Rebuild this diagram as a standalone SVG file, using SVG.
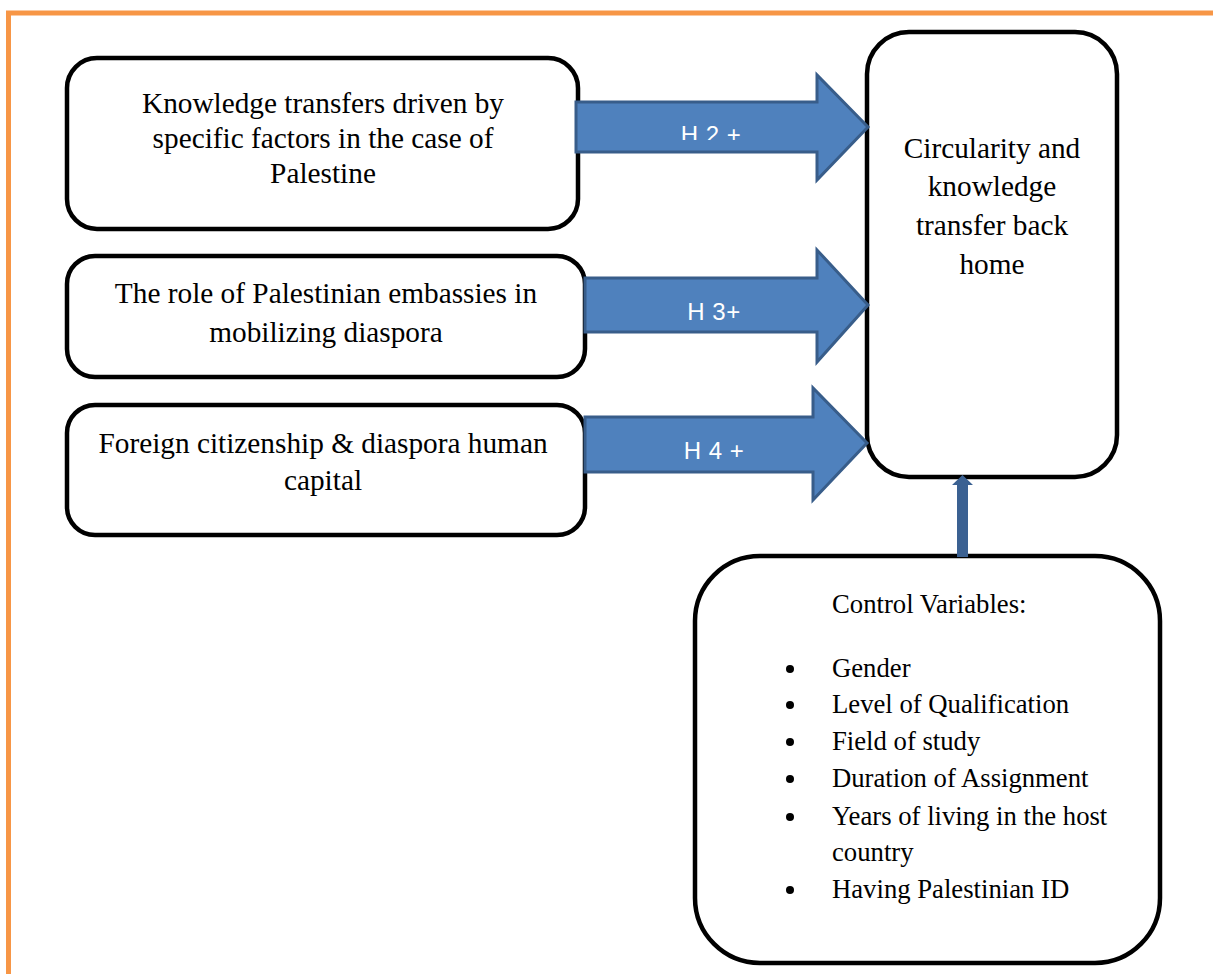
<svg xmlns="http://www.w3.org/2000/svg" width="1213" height="974" viewBox="0 0 1213 974">
  <style>
    .box { fill: #ffffff; stroke: #000000; stroke-width: 4.5; }
    .label { font-family: "Liberation Serif", "Times New Roman", serif; font-size: 29.3px; fill: #000000; text-anchor: middle; }
    .small { font-family: "Liberation Serif", "Times New Roman", serif; font-size: 26.7px; fill: #000000; }
    .fat { fill: #4f81bd; stroke: #385d8a; stroke-width: 3; stroke-linejoin: miter; }
    .hyp { font-family: "Liberation Sans", Arial, sans-serif; font-size: 24px; fill: #ffffff; text-anchor: middle; letter-spacing: 0.5px; }
    .frame { stroke: #f79646; stroke-width: 5; fill: none; }
  </style>
  <defs>
    <clipPath id="clipH2">
      <rect x="600" y="100" width="220" height="40"/>
    </clipPath>
  </defs>

  <rect width="1213" height="974" fill="#ffffff"/>

  <!-- page frame -->
  <g id="frame">
    <line class="frame" x1="8.5" y1="11" x2="8.5" y2="974"/>
    <line class="frame" x1="6" y1="13" x2="1213" y2="13"/>
  </g>

  <g id="node-knowledge-factors">
    <rect class="box" x="67" y="58" width="511" height="171" rx="30" ry="30"/>
    <text class="label" x="323" y="113">Knowledge transfers driven by</text>
    <text class="label" x="323" y="148">specific factors in the case of</text>
    <text class="label" x="323" y="183">Palestine</text>
  </g>

  <g id="node-embassies">
    <rect class="box" x="67" y="256" width="518" height="121" rx="28" ry="28"/>
    <text class="label" x="326" y="303">The role of Palestinian embassies in</text>
    <text class="label" x="326" y="342">mobilizing diaspora</text>
  </g>

  <g id="node-citizenship">
    <rect class="box" x="67" y="405" width="518" height="130" rx="28" ry="28"/>
    <text class="label" x="323" y="453">Foreign citizenship &amp; diaspora human</text>
    <text class="label" x="323" y="490">capital</text>
  </g>

  <g id="node-circularity">
    <rect class="box" x="867" y="32" width="250" height="445" rx="42" ry="42"/>
    <text class="label" x="992" y="158">Circularity and</text>
    <text class="label" x="992" y="196">knowledge</text>
    <text class="label" x="992" y="235">transfer back</text>
    <text class="label" x="992" y="274">home</text>
  </g>

  <g id="node-controls">
    <rect class="box" x="695" y="556" width="465" height="407" rx="65" ry="65"/>
    <text class="small" x="832" y="613">Control Variables:</text>
    <g fill="#000000">
      <circle cx="790" cy="669" r="4"/>
      <circle cx="790" cy="705" r="4"/>
      <circle cx="790" cy="742" r="4"/>
      <circle cx="790" cy="779" r="4"/>
      <circle cx="790" cy="817" r="4"/>
      <circle cx="790" cy="890" r="4"/>
    </g>
    <text class="small" x="832" y="677">Gender</text>
    <text class="small" x="832" y="713">Level of Qualification</text>
    <text class="small" x="832" y="750">Field of study</text>
    <text class="small" x="832" y="787">Duration of Assignment</text>
    <text class="small" x="832" y="825">Years of living in the host</text>
    <text class="small" x="832" y="861">country</text>
    <text class="small" x="832" y="898">Having Palestinian ID</text>
  </g>

  <g id="connectors">
    <g id="arrow-h2">
      <polygon class="fat" points="576,102 817,102 817,75 868,127 817,180 817,152 576,152"/>
      <text class="hyp" x="711" y="143" clip-path="url(#clipH2)">H 2 +</text>
    </g>
    <g id="arrow-h3">
      <polygon class="fat" points="585,278 817,278 817,250 868,305 817,362 817,332 585,332"/>
      <text class="hyp" x="714" y="320">H 3+</text>
    </g>
    <g id="arrow-h4">
      <polygon class="fat" points="585,417 813,417 813,388 867,443 813,500 813,472 585,472"/>
      <text class="hyp" x="714" y="459">H 4 +</text>
    </g>
    <g id="arrow-controls">
      <polygon fill="#3b6192" points="957,557 957,485 952,485 962.5,475 973,485 968,485 968,557"/>
    </g>
  </g>
</svg>
